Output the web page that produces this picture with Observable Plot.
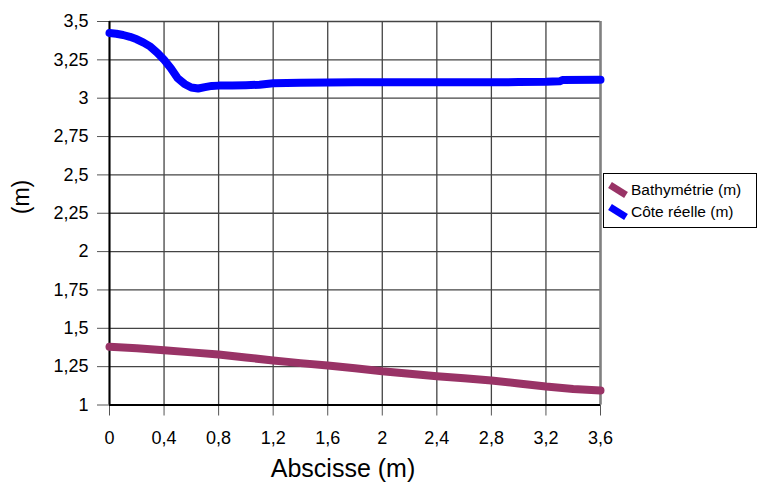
<!DOCTYPE html>
<html>
<head>
<meta charset="utf-8">
<script src="https://cdn.jsdelivr.net/npm/d3@7"></script>
<script src="https://cdn.jsdelivr.net/npm/@observablehq/plot@0.6"></script>
<style>
  body { margin: 0; background: #fff; font-family: "Liberation Sans", Arial, sans-serif; }
  #wrap { position: relative; width: 761px; height: 486px; }
  #legend { position: absolute; left: 603px; top: 173px; width: 154px; height: 55px;
    border: 1px solid #000; box-sizing: border-box; background: #fff; font-size: 15.5px; }
  .item { position: absolute; left: 0; display: flex; align-items: center; }
  .item svg { margin-left: 3px; margin-right: 2px; }
</style>
</head>
<body>
<div id="wrap"></div>
<script>
const blueX = [0,0.05,0.1,0.15,0.2,0.25,0.3,0.35,0.4,0.45,0.5,0.55,0.6,0.65,0.7,0.75,0.8,0.9,1.0,1.1,1.2,1.4,1.6,1.8,2.0,2.4,2.8,3.0,3.2,3.3,3.32,3.6];
const blueY = [3.425,3.42,3.412,3.40,3.384,3.362,3.336,3.297,3.25,3.195,3.13,3.093,3.07,3.063,3.072,3.08,3.082,3.082,3.085,3.088,3.097,3.10,3.102,3.104,3.104,3.104,3.104,3.105,3.107,3.11,3.118,3.12];
const purpleX = [0,0.2,0.4,0.6,0.8,1.0,1.2,1.4,1.6,1.8,2.0,2.2,2.4,2.6,2.8,3.0,3.2,3.4,3.6];
const purpleY = [1.38,1.37,1.357,1.343,1.329,1.31,1.29,1.273,1.257,1.24,1.22,1.204,1.188,1.174,1.16,1.14,1.12,1.105,1.095];
const xTicks = [0,0.4,0.8,1.2,1.6,2,2.4,2.8,3.2,3.6];
const yTicks = [1,1.25,1.5,1.75,2,2.25,2.5,2.75,3,3.25,3.5];
const seriesNames = ["Bathymétrie (m)", "Côte réelle (m)"];
const seriesColors = ["#993366", "#0000ff"];

const blue = blueX.map((x, i) => ({x, y: blueY[i]}));
const purple = purpleX.map((x, i) => ({x, y: purpleY[i]}));
const fmt = v => String(v).replace(".", ",");

const chart = Plot.plot({
  width: 761, height: 486,
  marginLeft: 109, marginRight: 161, marginTop: 21, marginBottom: 81.5,
  style: { fontFamily: '"Liberation Sans", Arial, sans-serif', fontSize: "18px", color: "#000", background: "#fff" },
  x: { domain: [0, 3.6] },
  y: { domain: [1, 3.5] },
  marks: [
    Plot.gridX(xTicks, { stroke: "#444", strokeOpacity: 1, strokeWidth: 1.3 }),
    Plot.gridY(yTicks, { stroke: "#444", strokeOpacity: 1, strokeWidth: 1.3 }),
    Plot.axisX({ ticks: xTicks, tickFormat: fmt, tickSize: 11, tickPadding: 15.5, label: null, stroke: "#555", fontSize: 18 }),
    Plot.axisY({ ticks: yTicks, tickFormat: fmt, tickSize: 12, tickPadding: 9, label: null, stroke: "#555", fontSize: 18 }),
    Plot.ruleX([3.6], { stroke: "#808080", strokeWidth: 2.5 }),
    Plot.ruleX([0], { stroke: "#000", strokeWidth: 2 }),
    Plot.ruleY([1], { stroke: "#000", strokeWidth: 2 }),
    Plot.line(purple, { x: "x", y: "y", stroke: seriesColors[0], strokeWidth: 8, strokeLinejoin: "round" }),
    Plot.line(blue, { x: "x", y: "y", stroke: seriesColors[1], strokeWidth: 8, strokeLinejoin: "round" }),
    Plot.text(["Abscisse (m)"], { frameAnchor: "bottom", dx: -12, dy: 72, fontSize: 25, fill: "#000" }),
    Plot.text(["(m)"], { frameAnchor: "left", dx: -88, dy: 1, rotate: -90, fontSize: 23, fill: "#000" })
  ]
});
const wrap = document.getElementById("wrap");
wrap.appendChild(chart);

const legend = document.createElement("div");
legend.id = "legend";
seriesNames.forEach((name, i) => {
  const item = document.createElement("div");
  item.className = "item";
  item.style.top = (i === 0 ? 7 : 29) + "px";
  item.innerHTML = `<svg width="22" height="16"><line x1="3" y1="3" x2="19" y2="13" stroke="${seriesColors[i]}" stroke-width="7"/></svg><span>${name}</span>`;
  legend.appendChild(item);
});
wrap.appendChild(legend);
</script>
</body>
</html>
